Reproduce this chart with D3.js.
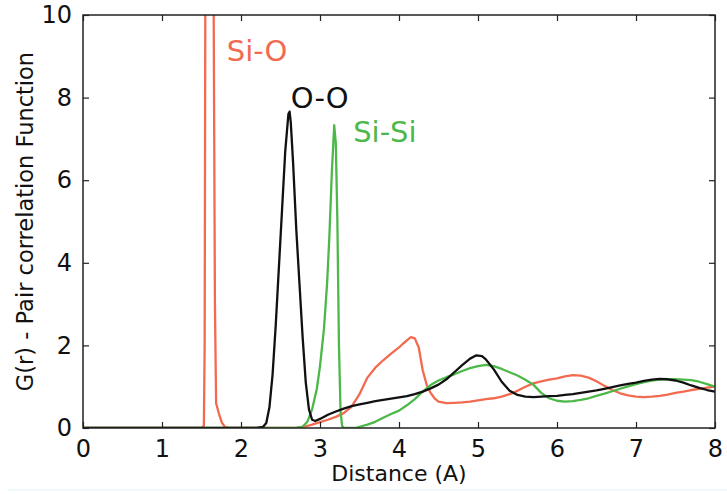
<!DOCTYPE html>
<html>
<head>
<meta charset="utf-8">
<script src="https://cdn.jsdelivr.net/npm/d3@7"></script>
<style>
  html, body { margin: 0; padding: 0; background: #fff; }
  svg { display: block; font-family: "DejaVu Sans", sans-serif; }
</style>
</head>
<body>
<svg id="chart" width="727" height="494"></svg>
<script>
// Pair correlation functions of amorphous SiO2
const xTicks = [0, 1, 2, 3, 4, 5, 6, 7, 8];
const yTicks = [0, 2, 4, 6, 8, 10];

// Si-O
const siOR = [0, 1.50, 1.53, 1.54, 1.55, 1.57, 1.60, 1.63, 1.65, 1.67, 1.685, 1.72, 1.76, 1.80, 1.85,
  2.60, 2.70, 2.80, 2.90, 3.00, 3.10, 3.20, 3.30, 3.40, 3.50, 3.60, 3.70, 3.80, 3.90, 4.00, 4.05, 4.10,
  4.15, 4.20, 4.25, 4.30, 4.35, 4.40, 4.45, 4.50, 4.60, 4.70, 4.80, 4.90, 5.00, 5.10, 5.20, 5.30, 5.40,
  5.50, 5.60, 5.70, 5.80, 5.90, 6.00, 6.10, 6.20, 6.30, 6.40, 6.50, 6.60, 6.70, 6.80, 6.90, 7.00, 7.10,
  7.20, 7.30, 7.40, 7.50, 7.60, 7.70, 7.80, 7.90, 8.00];
const siOG = [0, 0, 0.05, 2, 12, 24, 30, 22, 12, 3, 0.6, 0.35, 0.12, 0.02, 0,
  0, 0.01, 0.03, 0.08, 0.14, 0.2, 0.27, 0.36, 0.52, 0.82, 1.22, 1.46, 1.64, 1.80, 1.95, 2.04, 2.12,
  2.20, 2.17, 1.95, 1.40, 1.05, 0.85, 0.72, 0.64, 0.60, 0.61, 0.62, 0.64, 0.67, 0.70, 0.72, 0.76, 0.82,
  0.90, 1.00, 1.08, 1.13, 1.17, 1.20, 1.25, 1.28, 1.27, 1.22, 1.13, 1.02, 0.92, 0.84, 0.79, 0.76, 0.75,
  0.76, 0.78, 0.81, 0.85, 0.88, 0.92, 0.95, 0.98, 1.00];

// O-O
const ooR = [0, 2.20, 2.28, 2.32, 2.36, 2.40, 2.44, 2.48, 2.52, 2.56, 2.60, 2.615, 2.63, 2.66, 2.70,
  2.74, 2.78, 2.82, 2.86, 2.90, 2.94, 3.00, 3.10, 3.20, 3.30, 3.40, 3.50, 3.60, 3.70, 3.80, 3.90, 4.00,
  4.10, 4.20, 4.30, 4.40, 4.50, 4.60, 4.70, 4.80, 4.90, 4.98, 5.05, 5.10, 5.20, 5.30, 5.40, 5.50, 5.60,
  5.70, 5.80, 5.90, 6.00, 6.10, 6.20, 6.30, 6.40, 6.50, 6.60, 6.70, 6.80, 6.90, 7.00, 7.10, 7.20, 7.30,
  7.40, 7.50, 7.60, 7.70, 7.80, 7.90, 8.00];
const ooG = [0, 0, 0.03, 0.12, 0.5, 1.3, 2.5, 3.9, 5.3, 6.7, 7.6, 7.66, 7.4, 6.4, 4.8,
  3.5, 2.2, 1.1, 0.45, 0.2, 0.17, 0.22, 0.32, 0.4, 0.47, 0.53, 0.57, 0.61, 0.65, 0.68, 0.71, 0.74,
  0.77, 0.82, 0.88, 0.96, 1.05, 1.18, 1.35, 1.52, 1.68, 1.76, 1.74, 1.66, 1.42, 1.12, 0.9, 0.8, 0.76,
  0.75, 0.76, 0.77, 0.78, 0.8, 0.82, 0.85, 0.88, 0.91, 0.95, 0.99, 1.03, 1.07, 1.1, 1.14, 1.17, 1.19,
  1.18, 1.15, 1.1, 1.03, 0.97, 0.92, 0.88];

// Si-Si
const siSiR = [0, 2.70, 2.78, 2.84, 2.90, 2.96, 3.00, 3.05, 3.09, 3.12, 3.15, 3.18, 3.20, 3.22, 3.24,
  3.26, 3.28, 3.30, 3.45, 3.50, 3.60, 3.70, 3.80, 3.90, 4.00, 4.10, 4.20, 4.30, 4.40, 4.50, 4.60, 4.70,
  4.80, 4.90, 5.00, 5.10, 5.20, 5.30, 5.40, 5.50, 5.60, 5.70, 5.80, 5.90, 6.00, 6.10, 6.20, 6.30, 6.40,
  6.50, 6.60, 6.70, 6.80, 6.90, 7.00, 7.10, 7.20, 7.30, 7.40, 7.50, 7.60, 7.70, 7.80, 7.90, 8.00];
const siSiG = [0, 0, 0.03, 0.15, 0.45, 0.95, 1.5, 2.4, 3.5, 4.7, 6.2, 7.33, 6.9, 5.0, 2.0,
  0.4, 0.05, 0, 0, 0.03, 0.08, 0.15, 0.25, 0.34, 0.42, 0.55, 0.7, 0.88, 1.04, 1.15, 1.23, 1.3,
  1.38, 1.45, 1.5, 1.53, 1.5, 1.43, 1.35, 1.27, 1.17, 1.05, 0.85, 0.72, 0.66, 0.64, 0.65, 0.68, 0.72,
  0.78, 0.83, 0.89, 0.95, 1.01, 1.06, 1.11, 1.15, 1.17, 1.18, 1.18, 1.17, 1.16, 1.12, 1.06, 1.0];

const seriesNames = ["Si-O", "Si-Si", "O-O"];
const seriesColors = ["#f26a4f", "#4db84a", "#111111"];
const labelR = [1.82, 3.42, 2.63];
const labelG = [8.89, 6.93, 7.74];

const series = [
  { name: seriesNames[0], color: seriesColors[0], r: siOR, g: siOG, lr: labelR[0], lg: labelG[0] },
  { name: seriesNames[1], color: seriesColors[1], r: siSiR, g: siSiG, lr: labelR[1], lg: labelG[1] },
  { name: seriesNames[2], color: seriesColors[2], r: ooR, g: ooG, lr: labelR[2], lg: labelG[2] }
];

const svg = d3.select("#chart");
const margin = { left: 83, right: 12, top: 15, bottom: 66 };
const W = 727, H = 494;
const x = d3.scaleLinear().domain([0, 8]).range([margin.left, W - margin.right]);
const y = d3.scaleLinear().domain([0, 10]).range([H - margin.bottom, margin.top]);

svg.append("defs").append("clipPath").attr("id", "plotClip")
  .append("rect")
  .attr("x", x(0)).attr("y", y(10))
  .attr("width", x(8) - x(0)).attr("height", y(0) - y(10));

// faint rule along the bottom edge
svg.append("rect").attr("x", 8).attr("y", 489).attr("width", 719).attr("height", 2)
  .attr("fill", "#eef7fb");

const line = d3.line().x(d => x(d[0])).y(d => y(d[1]));

const curves = svg.append("g").attr("clip-path", "url(#plotClip)");
series.forEach(s => {
  const pts = s.r.map((r, i) => [r, s.g[i]]);
  curves.append("path")
    .datum(pts)
    .attr("d", line)
    .attr("fill", "none")
    .attr("stroke", s.color)
    .attr("stroke-width", 2.3)
    .attr("stroke-linejoin", "round");
});

// axes: ticks point inward on all four sides
const tickLen = 6;
const fontTick = 24;
const bottomAxis = d3.axisBottom(x).tickValues(xTicks).tickSize(-tickLen).tickPadding(12).tickFormat(d3.format("d"));
const topAxis = d3.axisTop(x).tickValues(xTicks).tickSize(-tickLen).tickFormat("");
const leftAxis = d3.axisLeft(y).tickValues(yTicks).tickSize(-tickLen).tickPadding(11).tickFormat(d3.format("d"));
const rightAxis = d3.axisRight(y).tickValues(yTicks).tickSize(-tickLen).tickFormat("");

function styleAxis(g) {
  g.select(".domain").remove();
  g.selectAll(".tick line").attr("stroke", "#222").attr("stroke-width", 1.2);
  g.selectAll(".tick text").attr("fill", "#111").style("font-size", fontTick + "px")
    .style("font-family", "DejaVu Sans, sans-serif");
}

svg.append("g").attr("transform", `translate(0,${y(0)})`).call(bottomAxis).call(styleAxis);
svg.append("g").attr("transform", `translate(0,${y(10)})`).call(topAxis).call(styleAxis);
svg.append("g").attr("transform", `translate(${x(0)},0)`).call(leftAxis).call(styleAxis);
svg.append("g").attr("transform", `translate(${x(8)},0)`).call(rightAxis).call(styleAxis);

// frame
svg.append("rect")
  .attr("x", x(0)).attr("y", y(10))
  .attr("width", x(8) - x(0)).attr("height", y(0) - y(10))
  .attr("fill", "none").attr("stroke", "#222").attr("stroke-width", 1.5);

// series labels
series.forEach(s => {
  svg.append("text")
    .attr("x", x(s.lr)).attr("y", y(s.lg))
    .attr("fill", s.color)
    .style("font-size", "29px")
    .text(s.name);
});

// axis titles
svg.append("text")
  .attr("x", (x(0) + x(8)) / 2).attr("y", 481)
  .attr("text-anchor", "middle")
  .attr("fill", "#111")
  .style("font-size", "22px")
  .text("Distance (A)");

svg.append("text")
  .attr("transform", `translate(33,${(y(0) + y(10)) / 2}) rotate(-90)`)
  .attr("text-anchor", "middle")
  .attr("fill", "#111")
  .style("font-size", "22.5px")
  .text("G(r) - Pair correlation Function");
</script>
</body>
</html>
